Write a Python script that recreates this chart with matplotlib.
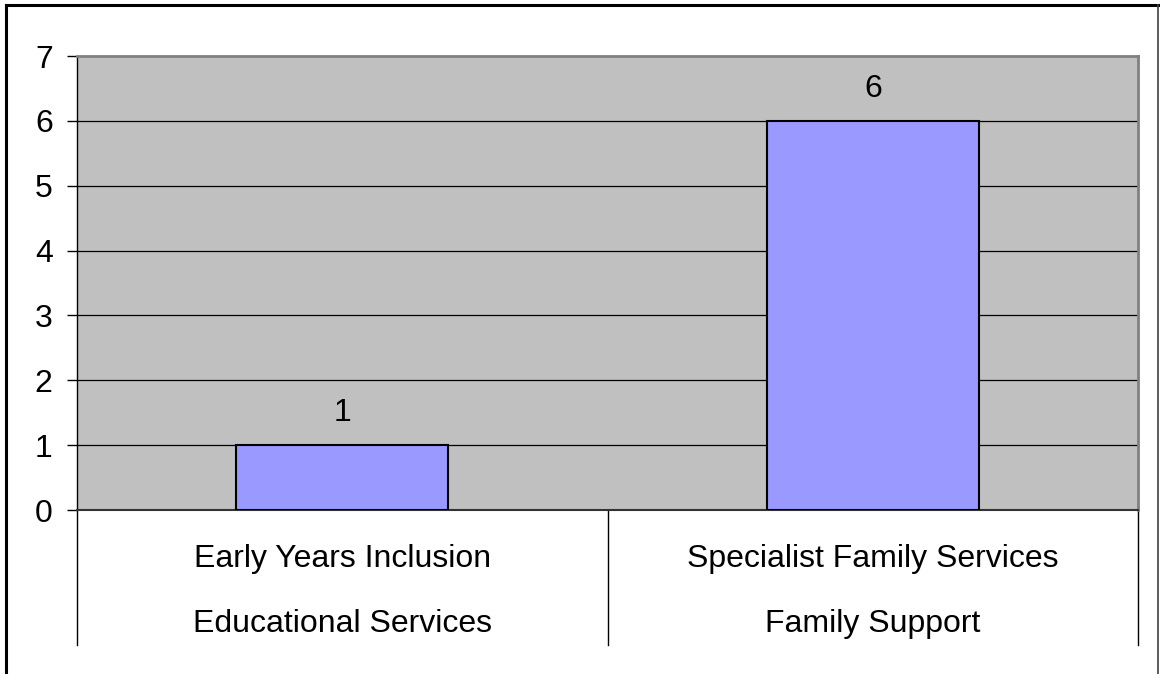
import matplotlib
matplotlib.use("Agg")
import matplotlib.pyplot as plt
from matplotlib.lines import Line2D
import matplotlib.transforms as mtransforms

categories = ["Early Years Inclusion", "Specialist Family Services"]
groups = ["Educational Services", "Family Support"]
values = [1, 6]
yticks = [0, 1, 2, 3, 4, 5, 6, 7]

plt.rcParams['font.family'] = ['Liberation Sans', 'DejaVu Sans']

W, H = 1160, 674
FS = 23
fig = plt.figure(figsize=(W / 100, H / 100), dpi=100)
fig.patch.set_facecolor('white')

l, r, t, b = 77, 1138, 56, 510
ax = fig.add_axes([l / W, 1 - b / H, (r - l) / W, (b - t) / H])
ax.set_facecolor('#C0C0C0')

x = list(range(len(values)))
ax.bar(x, values, width=0.4, color='#9999FF', edgecolor='black', linewidth=1.5, zorder=3)
for xi, v in zip(x, values):
    ax.annotate(str(v), (xi, v), xytext=(0, 17.3), textcoords='offset points',
                ha='center', va='baseline', fontsize=FS, color='black', zorder=4)

ax.set_xlim(-0.5, len(values) - 0.5)
ax.set_ylim(0, 7)
ax.set_yticks(yticks)
ax.set_yticklabels([str(v) for v in yticks], fontsize=FS)
ax.tick_params(axis='y', length=7.5, width=1, pad=10, colors='black')
ax.set_xticks([])
for yv in yticks[1:-1]:
    ax.axhline(yv, color='black', linewidth=0.9, zorder=1)

for side in ['top', 'right']:
    ax.spines[side].set_color('#808080')
    ax.spines[side].set_linewidth(2)
ax.spines['left'].set_color('black')
ax.spines['left'].set_linewidth(1)
ax.spines['bottom'].set_color('#333333')
ax.spines['bottom'].set_linewidth(1.5)

trans = mtransforms.blended_transform_factory(ax.transData, ax.transAxes)
sep_bottom = -(645 - b) / (b - t)
for sx in [-0.5 + i for i in range(len(values) + 1)]:
    ax.add_line(Line2D([sx, sx], [0, sep_bottom], transform=trans, color='black',
                       linewidth=1, clip_on=False))

y1 = -(567 - b) / (b - t)
y2 = -(632 - b) / (b - t)
for xi, c, g in zip(x, categories, groups):
    ax.text(xi, y1, c, transform=trans, ha='center', va='baseline', fontsize=FS)
    ax.text(xi, y2, g, transform=trans, ha='center', va='baseline', fontsize=FS)

# figure border
fig.add_artist(Line2D([5.5 / W, 5.5 / W], [0, 1 - 5 / H], transform=fig.transFigure,
                      color='black', linewidth=2.2))
fig.add_artist(Line2D([5.5 / W, 1158 / W], [1 - 5 / H, 1 - 5 / H], transform=fig.transFigure,
                      color='black', linewidth=2.2))
fig.add_artist(Line2D([1158 / W, 1158 / W], [0, 1 - 5 / H], transform=fig.transFigure,
                      color='#404040', linewidth=1.2))

fig.savefig('out.png', dpi=100, facecolor='white')
